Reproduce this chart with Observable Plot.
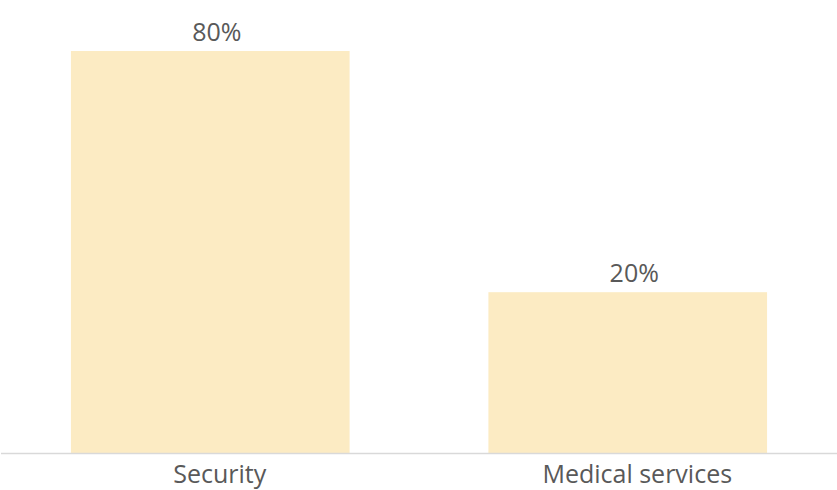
<!DOCTYPE html>
<html>
<head>
<meta charset="utf-8">
<script src="https://cdn.jsdelivr.net/npm/d3@7"></script>
<script src="https://cdn.jsdelivr.net/npm/@observablehq/plot@0.6"></script>
<style>
  html, body { margin: 0; padding: 0; background: #fff; }
  #chart { width: 837px; height: 490px; overflow: hidden; }
</style>
</head>
<body>
<div id="chart"></div>
<script>
const categories = ["Security", "Medical services"];
const values = [80, 20];
const valueLabels = ["80%", "20%"];
const yDomain = [-20, 80];

const data = categories.map((c, i) => ({category: c, value: values[i], label: valueLabels[i]}));

const chart = Plot.plot({
  width: 837,
  height: 490,
  marginTop: 51,
  marginBottom: 37,
  marginLeft: 1,
  marginRight: 0,
  style: {fontFamily: "'Open Sans', sans-serif", background: "#fff"},
  x: {domain: categories, paddingInner: 0.3325, paddingOuter: 0.1675, round: false, axis: null},
  y: {domain: yDomain, axis: null},
  marks: [
    Plot.barY(data, {x: "category", y1: yDomain[0], y2: "value", fill: "#FCEBC3"}),
    Plot.ruleY([yDomain[0]], {stroke: "#D9D9D9", strokeWidth: 1.5}),
    Plot.text(data, {x: "category", y: "value", text: "label", lineAnchor: "bottom", dy: -11, dx: 6, fontSize: 25, fill: "#595959"}),
    Plot.text(data, {x: "category", y: yDomain[0], text: "category", lineAnchor: "top", dy: 12, dx: 9, fontSize: 25, fill: "#595959"})
  ]
});
document.getElementById("chart").appendChild(chart);
</script>
</body>
</html>
